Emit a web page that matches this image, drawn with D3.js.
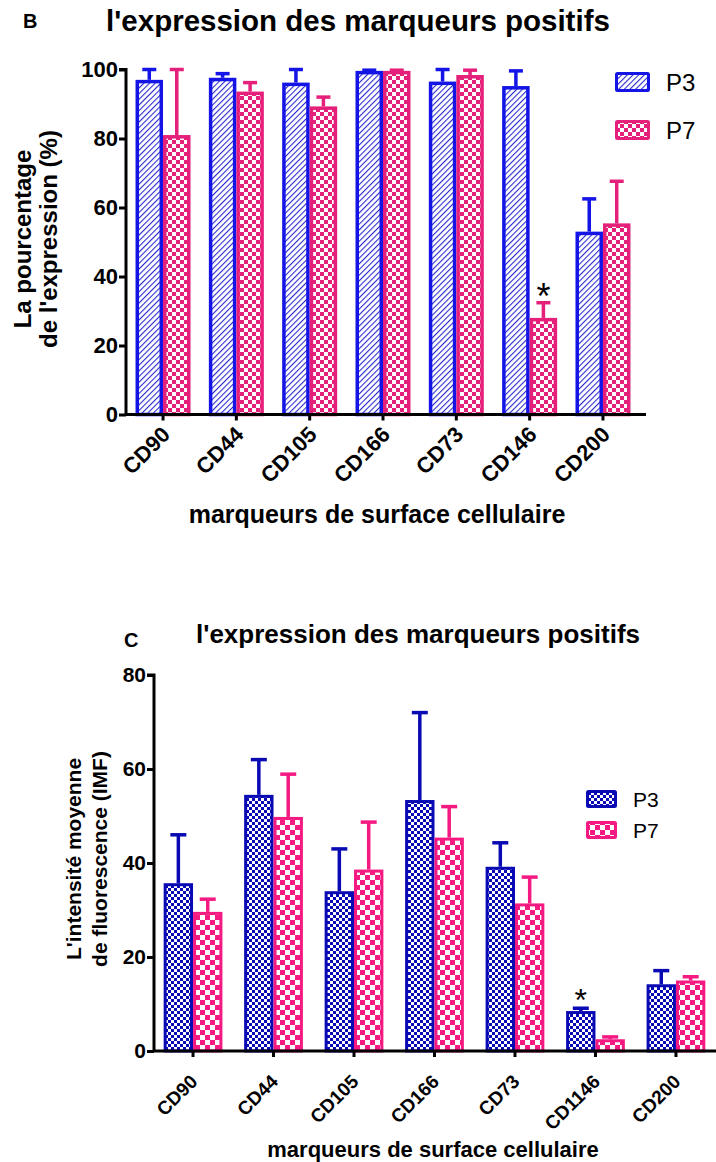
<!DOCTYPE html>
<html>
<head>
<meta charset="utf-8">
<script src="https://cdn.jsdelivr.net/npm/d3@7"></script>
<style>
  body { margin: 0; background: #fff; }
  svg text { font-family: "Liberation Sans", Arial, sans-serif; }
</style>
</head>
<body>
<div id="chart"></div>
<script>
// panel B: percentage of expression
const markersB = ["CD90", "CD44", "CD105", "CD166", "CD73", "CD146", "CD200"];
const p3B = [97, 97.6, 96.2, 99.6, 96.5, 95.2, 53];
const p3B_err = [100, 98.8, 100, 99.8, 100, 99.6, 62.5];
const p7B = [81, 93.6, 89.3, 99.6, 98.4, 28, 55.4];
const p7B_err = [100, 96.2, 92, 99.8, 99.8, 32.4, 67.6];
const ticksB = [0, 20, 40, 60, 80, 100];

// panel C: mean fluorescence intensity
const markersC = ["CD90", "CD44", "CD105", "CD166", "CD73", "CD1146", "CD200"];
const p3C = [35.7, 54.5, 34, 53.4, 39.2, 8.5, 14.2];
const p3C_err = [46, 62, 43, 72, 44.3, 9.1, 17.1];
const p7C = [29.6, 49.8, 38.6, 45.4, 31.4, 2.5, 15];
const p7C_err = [32.3, 58.9, 48.7, 52, 37, 3, 15.8];
const ticksC = [0, 20, 40, 60, 80];

const width = 716, height = 1162;
const svg = d3.select("#chart").append("svg")
  .attr("width", width)
  .attr("height", height);

const defs = svg.append("defs");

function hatch(id, color) {
  const p = defs.append("pattern")
    .attr("id", id)
    .attr("patternUnits", "userSpaceOnUse")
    .attr("width", 4).attr("height", 4)
    .attr("patternTransform", "rotate(45)");
  p.append("rect").attr("width", 4).attr("height", 4).attr("fill", "#fff");
  p.append("line").attr("x1", 0).attr("y1", 0).attr("x2", 0).attr("y2", 4)
    .attr("stroke", color).attr("stroke-width", 2.2);
}

function checker(id, color, s) {
  const p = defs.append("pattern")
    .attr("id", id)
    .attr("patternUnits", "userSpaceOnUse")
    .attr("width", 2 * s).attr("height", 2 * s);
  p.append("rect").attr("width", 2 * s).attr("height", 2 * s).attr("fill", "#fff");
  p.append("rect").attr("width", s).attr("height", s).attr("fill", color);
  p.append("rect").attr("x", s).attr("y", s).attr("width", s).attr("height", s).attr("fill", color);
}

hatch("hatchB", "#2a2ad0");
checker("checkB", "#e5207a", 4);
checker("checkC3", "#0a0ab4", 3);
checker("checkC7", "#f51a82", 5);

function drawPanel(o) {
  const x = d3.scaleBand()
    .domain(o.cats)
    .range(o.xRange)
    .paddingInner(o.padIn)
    .paddingOuter(o.padOut);
  const xs = d3.scaleBand().domain(["P3", "P7"]).range([0, x.bandwidth()]);
  const y = d3.scaleLinear().domain([0, o.yMax]).range(o.yRange);

  const g = svg.append("g");

  // bars and upper error bars
  const series = [
    { key: "P3", vals: o.p3, errs: o.p3err, fill: o.fill3, color: o.color3 },
    { key: "P7", vals: o.p7, errs: o.p7err, fill: o.fill7, color: o.color7 }
  ];
  series.forEach(s => {
    const sw = o.barStroke;
    const cx = d => x(d) + xs(s.key) + xs.bandwidth() / 2;
    g.selectAll(null)
      .data(o.cats)
      .enter().append("line")
      .attr("x1", cx).attr("x2", cx)
      .attr("y1", (d, i) => y(s.vals[i]))
      .attr("y2", (d, i) => y(s.errs[i]))
      .attr("stroke", s.color).attr("stroke-width", o.errStroke);
    g.selectAll(null)
      .data(o.cats)
      .enter().append("line")
      .attr("x1", d => cx(d) - o.cap / 2)
      .attr("x2", d => cx(d) + o.cap / 2)
      .attr("y1", (d, i) => y(s.errs[i]))
      .attr("y2", (d, i) => y(s.errs[i]))
      .attr("stroke", s.color).attr("stroke-width", o.errStroke);
    g.selectAll(null)
      .data(o.cats)
      .enter().append("rect")
      .attr("x", d => x(d) + xs(s.key) + sw / 2)
      .attr("width", xs.bandwidth() - sw)
      .attr("y", (d, i) => y(s.vals[i]) + sw / 2)
      .attr("height", (d, i) => y(0) - y(s.vals[i]) - sw / 2)
      .attr("fill", `url(#${s.fill})`)
      .attr("stroke", s.color)
      .attr("stroke-width", sw);
  });

  // star over the significant bar
  const si = o.cats.indexOf(o.star.cat);
  const sv = o.star.key === "P3" ? o.p3err[si] : o.p7err[si];
  g.append("text")
    .attr("x", x(o.star.cat) + xs(o.star.key) + xs.bandwidth() / 2)
    .attr("y", y(sv) + o.star.dy)
    .attr("text-anchor", "middle")
    .attr("font-size", o.star.size)
    .text("*");

  // y axis
  const ya = g.append("g")
    .attr("transform", `translate(${o.xRange[0]},0)`)
    .call(d3.axisLeft(y).tickValues(o.ticks).tickSize(7).tickPadding(1));
  ya.select(".domain").attr("stroke-width", 3).attr("d", `M-7,${y(o.yMax)}H0V${y(0)}`);
  ya.selectAll(".tick line").attr("stroke-width", 3);
  ya.selectAll(".tick text")
    .attr("font-size", o.tickFont).attr("font-weight", "bold").attr("fill", "#000")
    .attr("font-family", "'Liberation Sans', Arial, sans-serif");

  // x axis
  const xa = g.append("g")
    .attr("transform", `translate(0,${y(0)})`)
    .call(d3.axisBottom(x).tickSize(6).tickSizeOuter(0));
  xa.select(".domain").attr("stroke-width", 3).attr("d", `M${o.xRange[0] - 1},0H${o.xAxisEnd}`);
  xa.selectAll(".tick line").attr("stroke-width", 3);
  xa.selectAll(".tick text")
    .attr("font-size", o.xTickFont).attr("font-weight", "bold").attr("fill", "#000")
    .attr("font-family", "'Liberation Sans', Arial, sans-serif")
    .attr("text-anchor", "end")
    .attr("dy", "0.35em")
    .attr("transform", `translate(${o.xLabDx},${o.xLabDy}) rotate(-45)`)
    .attr("y", 0).attr("x", 0);

  // titles
  svg.append("text")
    .attr("x", o.title.x).attr("y", o.title.y)
    .attr("text-anchor", "middle")
    .attr("font-size", o.title.size).attr("font-weight", "bold")
    .text("l'expression des marqueurs positifs");
  svg.append("text")
    .attr("x", o.letter.x).attr("y", o.letter.y)
    .attr("font-size", 20).attr("font-weight", "bold")
    .text(o.letter.t);
  svg.append("text")
    .attr("x", o.xTitle.x).attr("y", o.xTitle.y)
    .attr("text-anchor", "middle")
    .attr("font-size", o.xTitle.size).attr("font-weight", "bold")
    .text("marqueurs de surface cellulaire");
  o.yTitle.lines.forEach((t, i) => {
    svg.append("text")
      .attr("transform", `translate(${o.yTitle.x[i]},${o.yTitle.y}) rotate(-90)`)
      .attr("text-anchor", "middle")
      .attr("font-size", o.yTitle.size).attr("font-weight", "bold")
      .text(t);
  });

  // legend
  series.forEach((s, i) => {
    const ly = o.legend.y + i * o.legend.gap;
    svg.append("rect")
      .attr("x", o.legend.x + 1.5).attr("y", ly + 1.5)
      .attr("width", o.legend.w - 3).attr("height", o.legend.h - 3)
      .attr("fill", `url(#${s.fill})`)
      .attr("stroke", s.color).attr("stroke-width", 3).attr("rx", 1);
    svg.append("text")
      .attr("x", o.legend.x + o.legend.w + 16)
      .attr("y", ly + o.legend.h / 2)
      .attr("dy", "0.36em")
      .attr("font-size", o.legend.font)
      .text(s.key);
  });
}

drawPanel({
  cats: markersB, p3: p3B, p3err: p3B_err, p7: p7B, p7err: p7B_err,
  ticks: ticksB, yMax: 100, yRange: [414.5, 69.5],
  xRange: [126, 640], xAxisEnd: 646, padIn: 0.25, padOut: 0.13,
  fill3: "hatchB", fill7: "checkB", color3: "#1414e6", color7: "#e5207a",
  barStroke: 3.5, errStroke: 3.5, cap: 14,
  tickFont: 22, xTickFont: 22, xLabDx: 3, xLabDy: 16,
  star: { cat: "CD146", key: "P7", size: 36, dy: 6 },
  title: { x: 358, y: 31, size: 29.5 },
  letter: { x: 23, y: 28, t: "B" },
  xTitle: { x: 377, y: 523, size: 25 },
  yTitle: { lines: ["La pourcentage", "de l'expression (%)"], x: [31, 57], y: 239, size: 24 },
  legend: { x: 615, y: 72, w: 35, h: 20, gap: 48, font: 24 }
});

drawPanel({
  cats: markersC, p3: p3C, p3err: p3C_err, p7: p7C, p7err: p7C_err,
  ticks: ticksC, yMax: 80, yRange: [1051, 675],
  xRange: [154, 715], xAxisEnd: 716, padIn: 0.27, padOut: 0.12,
  fill3: "checkC3", fill7: "checkC7", color3: "#0a0ab4", color7: "#f51a82",
  barStroke: 3, errStroke: 3.5, cap: 16,
  tickFont: 21, xTickFont: 19, xLabDx: 1, xLabDy: 27,
  star: { cat: "CD1146", key: "P3", size: 32, dy: 3 },
  title: { x: 418, y: 643, size: 26 },
  letter: { x: 124, y: 647, t: "C" },
  xTitle: { x: 433, y: 1157, size: 22 },
  yTitle: { lines: ["L'intensité moyenne", "de fluorescence (IMF)"], x: [81, 107], y: 859, size: 21 },
  legend: { x: 586, y: 790, w: 31, h: 18, gap: 31, font: 21 }
});
</script>
</body>
</html>
